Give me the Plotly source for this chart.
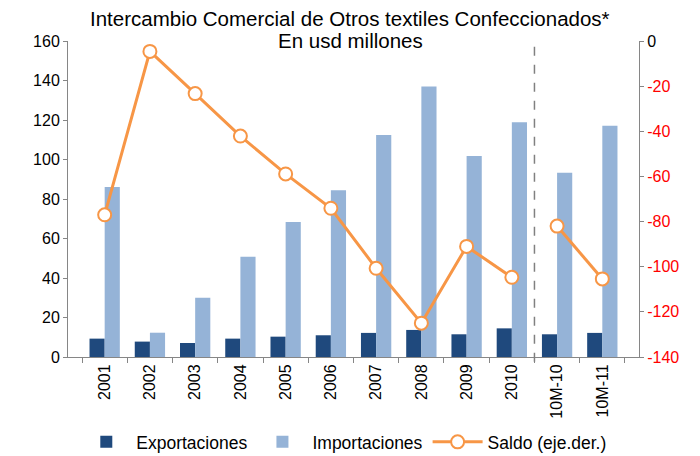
import plotly.graph_objects as go

categories = ["2001", "2002", "2003", "2004", "2005", "2006", "2007", "2008", "2009", "2010", "10M-10", "10M-11"]
exportaciones = [9.3, 7.8, 7.1, 9.3, 10.3, 11.0, 12.2, 13.7, 11.5, 14.5, 11.5, 12.2]
importaciones = [86.1, 12.3, 30.0, 50.8, 68.4, 84.4, 112.4, 137.0, 101.8, 118.8, 93.3, 117.1]
saldo = [-77.0, -4.6, -23.3, -42.1, -58.9, -74.1, -100.7, -125.0, -91.0, -104.7, -82.0, -105.4]

left_ticks = [0, 20, 40, 60, 80, 100, 120, 140, 160]
right_ticks = [0, -20, -40, -60, -80, -100, -120, -140]
right_ticktext = ["<span style='color:#000000'>0</span>"] + [str(v) for v in right_ticks[1:]]

title_line1 = "Intercambio Comercial de Otros textiles Confeccionados*"
title_line2 = "En usd millones"

dark = "#1F497D"
light = "#95B3D7"
orange = "#F79646"
axis_gray = "#868686"
font_family = "Liberation Sans, Arial, sans-serif"

fig = go.Figure()
fig.add_trace(go.Bar(x=categories, y=exportaciones, name="Exportaciones",
                     marker=dict(color=dark, line=dict(width=0))))
fig.add_trace(go.Bar(x=categories, y=importaciones, name="Importaciones",
                     marker=dict(color=light, line=dict(width=0))))
fig.add_trace(go.Scatter(x=categories[:10], y=saldo[:10], name="Saldo (eje.der.)",
                         yaxis="y2", mode="lines+markers",
                         line=dict(color=orange, width=3),
                         marker=dict(symbol="circle", size=13, color="white",
                                     line=dict(color=orange, width=2))))
fig.add_trace(go.Scatter(x=categories[10:], y=saldo[10:], name="Saldo (eje.der.)",
                         yaxis="y2", mode="lines+markers", showlegend=False,
                         line=dict(color=orange, width=3),
                         marker=dict(symbol="circle", size=13, color="white",
                                     line=dict(color=orange, width=2))))

fig.add_shape(type="line", xref="x", yref="paper", x0=9.5, x1=9.5, y0=-0.015, y1=1,
              line=dict(color="#808080", width=1.5, dash="dash"))

fig.add_annotation(text=title_line1, xref="paper", yref="paper", x=0.494, y=1.0,
                   yshift=10, xanchor="center", yanchor="bottom", showarrow=False,
                   borderpad=0, font=dict(size=20.5, color="#000000"))
fig.add_annotation(text=title_line2, xref="paper", yref="paper", x=0.494, y=1.0,
                   yshift=-13, xanchor="center", yanchor="bottom", showarrow=False,
                   font=dict(size=20.5, color="#000000"))

fig.update_layout(
    width=700, height=456,
    paper_bgcolor="white", plot_bgcolor="white",
    font=dict(family=font_family, size=16, color="#000000"),
    margin=dict(l=60, r=69, t=33, b=107, autoexpand=False),
    barmode="group", bargap=0.33, bargroupgap=0,
    showlegend=True,
    legend=dict(orientation="h", x=0.483, xanchor="center", y=-0.212, yanchor="top",
                font=dict(size=17.5), traceorder="normal", itemwidth=50),
    xaxis=dict(type="category", showline=True, linecolor=axis_gray, linewidth=1,
               ticks="outside", tickson="boundaries", ticklen=5, tickcolor=axis_gray,
               tickangle=-90, tickfont=dict(size=16), showgrid=False, automargin=False),
    yaxis=dict(range=[0, 160], tickvals=left_ticks, showline=True, linecolor=axis_gray,
               linewidth=1, ticks="outside", ticklen=4, tickcolor=axis_gray,
               showgrid=False, zeroline=False, tickfont=dict(size=16), automargin=False),
    yaxis2=dict(range=[-140, 0], overlaying="y", side="right", tickvals=right_ticks,
                ticktext=right_ticktext, showline=True, linecolor=axis_gray, linewidth=1,
                ticks="outside", ticklen=4, tickcolor=axis_gray, showgrid=False,
                zeroline=False, tickfont=dict(size=16, color="#FF0000"), automargin=False),
)

fig.write_html("out.html")
